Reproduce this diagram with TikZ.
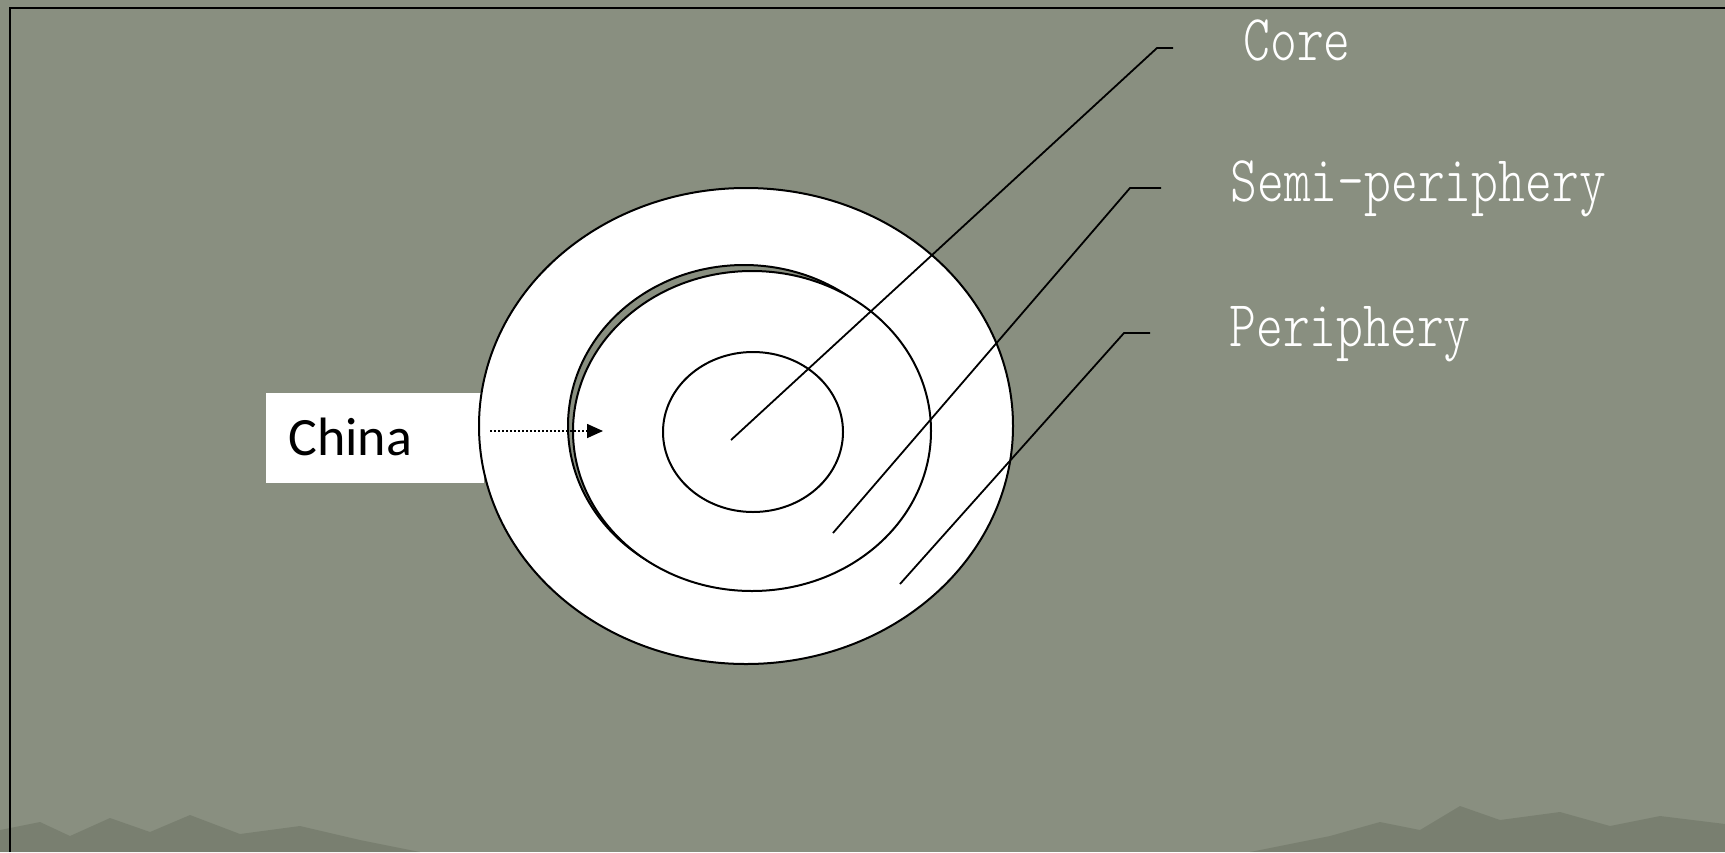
\documentclass[tikz,border=0pt]{standalone}
\usepackage{fontspec}
\setsansfont{Carlito}
\newfontfamily\ringfont[FakeStretch=0.78]{lmmonolt10-regular.otf}
\usepackage{tikz}
\usetikzlibrary{positioning,arrows.meta}

\definecolor{slate}{RGB}{137,143,128}
\definecolor{slatedark}{RGB}{92,100,84}

\tikzset{
  ring/.style={draw=black, line width=1pt, fill=white},
  leader/.style={draw=black, line width=0.9pt},
  ringlabel/.style={text=white, anchor=base west, inner sep=0pt,
    font=\ringfont\fontsize{32.75}{38}\selectfont},
}

\begin{document}
\begin{tikzpicture}[x=0.5pt, y=-0.5pt]
  % Background and frame
  \fill[slate] (0,0) rectangle (1725,852);
  \useasboundingbox (0,0) rectangle (1725,852);
  \fill[slatedark, opacity=0.35] (0,852) -- (0,830) -- (40,822) -- (70,836) -- (110,818) -- (150,832) -- (190,815) -- (240,834) -- (300,826) -- (360,840) -- (420,852) -- cycle;
  \fill[slatedark, opacity=0.35] (1250,852) -- (1330,836) -- (1380,822) -- (1420,830) -- (1460,806) -- (1500,820) -- (1560,812) -- (1610,826) -- (1660,816) -- (1725,824) -- (1725,852) -- cycle;
  \draw[line width=1pt] (10,852) -- (10,8) -- (1725,8);

  % China box
  \node[fill=white, anchor=north west, minimum width=109pt, minimum height=45pt, inner sep=0pt] (chinabox) at (266,393) {};
  \node[anchor=base west, inner sep=0pt, font=\sffamily\fontsize{27}{32}\selectfont] (china) at (288,455) {China};

  % Rings
  \draw[ring] (746,426) ellipse [x radius=133.5pt, y radius=119pt];
  \draw[ring, fill=slate] (744,426) ellipse [x radius=88pt, y radius=80.5pt];
  \draw[ring] (752,431) ellipse [x radius=89.5pt, y radius=80pt];
  \draw[ring] (753,432) ellipse [x radius=45pt, y radius=40pt];

  % China arrow
  \coordinate (arrowtail) at (490,431);
  \coordinate (arrowhead) at (603,431);
  \draw[line width=0.8pt, dash pattern=on 0.8pt off 1.2pt, -{Triangle[length=8pt, width=7pt]}] (arrowtail) -- (arrowhead);

  % Labels
  \node[ringlabel] (core) at (1243,60) {Core};
  \node[ringlabel] (semi) at (1230,201) {Semi-periphery};
  \node[ringlabel] (peri) at (1229,346) {Periphery};

  % Leader lines
  \coordinate (corein) at (731,440);
  \coordinate (coreout) at (1173,48);
  \coordinate (semiin) at (833,533);
  \coordinate (semiout) at (1161,188);
  \coordinate (periin) at (900,584);
  \coordinate (periout) at (1150,333);
  \draw[leader] (corein) -- (1157,48) -- (coreout);
  \draw[leader] (semiin) -- (1130,188) -- (semiout);
  \draw[leader] (periin) -- (1124,333) -- (periout);
\end{tikzpicture}
\end{document}
